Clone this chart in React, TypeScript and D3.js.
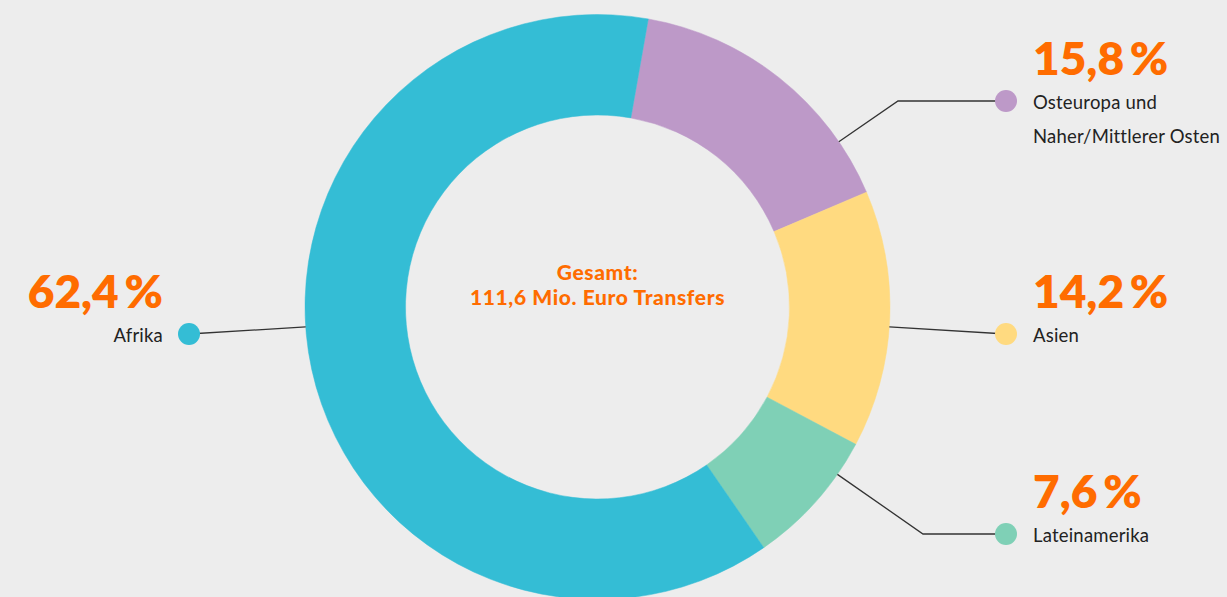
import { useEffect } from 'react'
import * as d3 from 'd3'

// Anteile der Transfers nach Region (Uhrzeigersinn ab Osteuropa)
const regions = ['Osteuropa und Naher/Mittlerer Osten', 'Asien', 'Lateinamerika', 'Afrika']
const labelLines = [['Osteuropa und', 'Naher/Mittlerer Osten'], ['Asien'], ['Lateinamerika'], ['Afrika']]
const shares = [15.8, 14.2, 7.6, 62.4]
const colors = ['#bd99c8', '#ffda80', '#7fd0b6', '#34bdd5']
const centerLines = ['Gesamt:', '111,6 Mio. Euro Transfers']

interface Slice {
  region: string
  lines: string[]
  share: number
  color: string
}

const slices: Slice[] = regions.map((r, i) => ({
  region: r,
  lines: labelLines[i],
  share: shares[i],
  color: colors[i],
}))

// Beschriftungs-Layout: Winkel am Ring, Knick, Punkt
const labelLayout = [
  { angle: 55.6, elbowX: 898, dotX: 1006, dotY: 101, side: 'right' },
  { angle: 93.9, elbowX: null, dotX: 1006, dotY: 334, side: 'right' },
  { angle: 124.9, elbowX: 923, dotX: 1006, dotY: 534, side: 'right' },
  { angle: 266.1, elbowX: null, dotX: 189, dotY: 334, side: 'left' },
]

const width = 1227
const height = 597
const cx = 597.5
const cy = 307
const outerR = 292.5
const innerR = 192
const orange = '#ff6c00'
const textColor = '#222'
const font = 'Lato, "Open Sans", sans-serif'

export default function App() {
  useEffect(() => {
    document.body.style.margin = '0'
    document.body.style.background = '#ededed'
  }, [])

  const pie = d3.pie<Slice>()
    .value(d => d.share)
    .sort(null)
    .startAngle((10 * Math.PI) / 180)
    .endAngle((10 * Math.PI) / 180 + 2 * Math.PI)

  const arc = d3.arc<d3.PieArcDatum<Slice>>()
    .innerRadius(innerR)
    .outerRadius(outerR)

  const arcs = pie(slices)
  const pctFormat = (v: number) => d3.format('.1f')(v).replace('.', ',') + '\u2009%'

  return (
    <svg width={width} height={height} style={{ display: 'block', background: '#ededed' }}>
      <g transform={`translate(${cx},${cy})`}>
        {arcs.map((a, i) => (
          <path key={i} d={arc(a) || ''} fill={a.data.color} stroke={a.data.color} strokeWidth={0.5} />
        ))}
        <text textAnchor="middle" fill={orange} fontFamily={font} fontWeight={900} fontSize={21}
          letterSpacing={0.6}>
          <tspan x={0} y={-27}>{centerLines[0]}</tspan>
          <tspan x={0} y={-2}>{centerLines[1]}</tspan>
        </text>
      </g>
      {arcs.map((a, i) => {
        const lay = labelLayout[i]
        const ang = (lay.angle * Math.PI) / 180
        const sx = cx + outerR * Math.sin(ang)
        const sy = cy - outerR * Math.cos(ang)
        const pts: [number, number][] = lay.elbowX !== null
          ? [[sx, sy], [lay.elbowX, lay.dotY], [lay.dotX, lay.dotY]]
          : [[sx, sy], [lay.dotX, lay.dotY]]
        const right = lay.side === 'right'
        const tx = right ? lay.dotX + 27 : lay.dotX - 26
        const anchor = right ? 'start' : 'end'
        return (
          <g key={i}>
            <path d={d3.line()(pts) || ''} fill="none" stroke="#333" strokeWidth={1.3} />
            <circle cx={lay.dotX} cy={lay.dotY} r={11} fill={a.data.color} />
            <text x={tx} y={lay.dotY - 26} textAnchor={anchor} fill={orange}
              fontFamily={font} fontWeight={800} fontSize={46}>
              {pctFormat(a.data.share)}
            </text>
            <text textAnchor={anchor} fill={textColor} fontFamily={font} fontSize={18.5}
              letterSpacing={0.2}>
              {a.data.lines.map((l, j) => (
                <tspan key={j} x={tx} y={lay.dotY + 8 + j * 34}>{l}</tspan>
              ))}
            </text>
          </g>
        )
      })}
    </svg>
  )
}
